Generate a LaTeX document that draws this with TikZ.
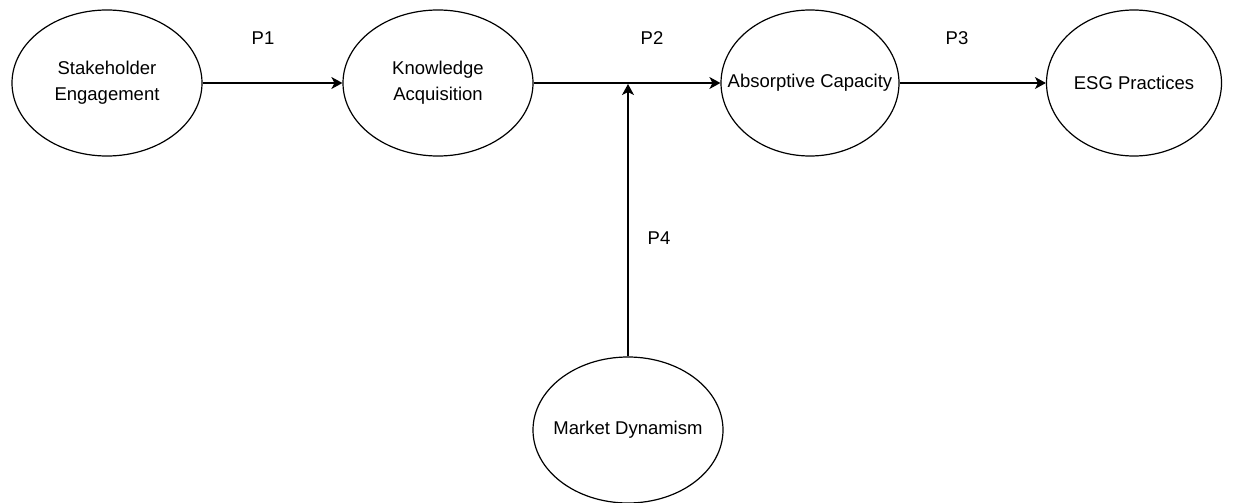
\documentclass[tikz,border=0pt]{standalone}
\usepackage{fontspec}
\setmainfont{Liberation Sans}
\usetikzlibrary{shapes,arrows.meta}
\tikzset{
	construct/.style = {draw, ellipse, line width=1.2pt,
		minimum width = 190pt,
		minimum height = 146pt,
		inner xsep=-40pt, inner ysep=0pt, align=center,
		font=\fontsize{18.5}{26}\selectfont},
	plabel/.style    = {font=\fontsize{18.5}{20}\selectfont},
}

\begin{document}
\begin{tikzpicture}[ x=1pt, y=-1pt,                %<--one unit is one pixel, y runs down
					line width=1.2pt,              %<--setting line style
					>={Stealth[length=11pt,width=12pt,inset=3pt]} ] %<--sets the arrowtype

	\useasboundingbox (0,0) rectangle (1258,503);

	\draw%-----------------------------------------------------------------------------------------
	%Drawing the Constructs:
	node(SE) at (107,83) [construct] {Stakeholder\\Engagement}
	node(KA) at (438,83) [construct] {Knowledge\\Acquisition}
	node(AC) at (810,83) [construct, minimum width=178pt] {Absorptive Capacity}
	node(ESG) at (1134,83) [construct, minimum width=175pt] {ESG Practices}
	node(MD) at (628,430) [construct] {Market Dynamism}
	%Drawing the Moderation Node:
	node[shape=coordinate][](junction) at (628,84){}
	%Drawing the Proposition Labels:
	node(P1) at (263,38) [plabel] {P1}
	node(P2) at (652,38) [plabel] {P2}
	node(P3) at (957,38) [plabel] {P3}
	node(P4) at (659,238) [plabel] {P4}
	;%---------------------------------------------------------------------------------------------

	%Joining the Constructs
	\draw[->](SE) -- (KA);
	\draw[->](KA) -- (AC);
	\draw[->](AC) -- (ESG);
	\draw[->](MD) -- (junction);

\end{tikzpicture}
\end{document}
